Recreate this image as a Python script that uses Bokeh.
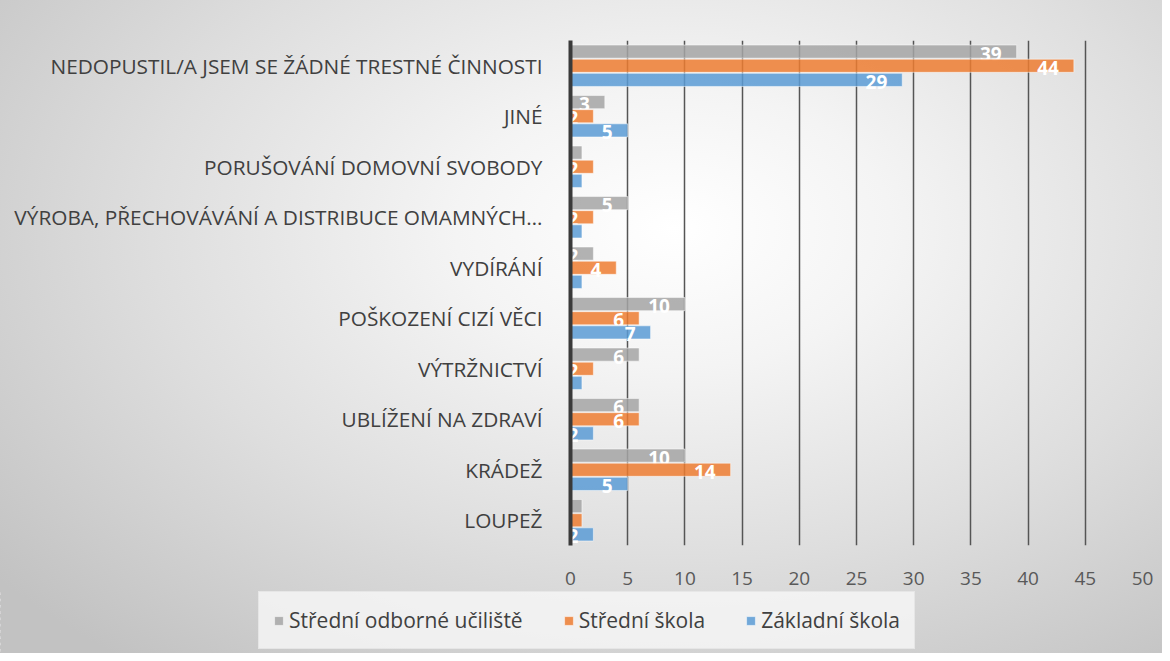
from bokeh.plotting import figure
from bokeh.layouts import column
from bokeh.models import ColumnDataSource, FactorRange, Legend, LegendItem, FixedTicker, Range1d
from bokeh.transform import dodge
from bokeh.core.properties import value
from bokeh.embed import file_html
from bokeh.resources import INLINE

categories = ["LOUPEŽ", "KRÁDEŽ", "UBLÍŽENÍ NA ZDRAVÍ", "VÝTRŽNICTVÍ", "POŠKOZENÍ CIZÍ VĚCI",
              "VYDÍRÁNÍ", "VÝROBA, PŘECHOVÁVÁNÍ A DISTRIBUCE OMAMNÝCH…",
              "PORUŠOVÁNÍ DOMOVNÍ SVOBODY", "JINÉ", "NEDOPUSTIL/A JSEM SE ŽÁDNÉ TRESTNÉ ČINNOSTI"]
sou = [1, 10, 6, 6, 10, 2, 5, 1, 3, 39]
ss = [1, 14, 6, 2, 6, 4, 2, 2, 2, 44]
zs = [2, 5, 2, 1, 7, 1, 1, 1, 5, 29]
series_names = ["Střední odborné učiliště", "Střední škola", "Základní škola"]
x_ticks = [0, 5, 10, 15, 20, 25, 30, 35, 40, 45, 50]

colors = ["#a5a5a5", "#ed7d31", "#5b9bd5"]
offsets = [0.28, 0.0, -0.28]
FONT = "Open Sans"
W = 1162

source = ColumnDataSource(data=dict(cat=categories, sou=sou, ss=ss, zs=zs,
                                    sou_t=[str(v) for v in sou],
                                    ss_t=[str(v) for v in ss],
                                    zs_t=[str(v) for v in zs]))

p = figure(width=W, height=590, y_range=FactorRange(factors=categories),
           x_range=(0, 50), output_backend="svg", toolbar_location=None,
           min_border_left=570, min_border_right=20, min_border_top=40, min_border_bottom=45)
p.background_fill_color = None
p.border_fill_color = None
p.outline_line_color = None

p.ygrid.grid_line_color = None
p.xgrid.grid_line_color = "#555555"
p.xgrid.grid_line_width = 1.5
p.xgrid.ticker = FixedTicker(ticks=x_ticks[1:])
p.xaxis.ticker = FixedTicker(ticks=x_ticks)

p.xaxis.axis_line_color = None
p.xaxis.major_tick_line_color = None
p.xaxis.minor_tick_line_color = None
p.xaxis.major_label_text_font = FONT
p.xaxis.major_label_text_font_size = "19px"
p.xaxis.major_label_text_color = "#595959"
p.xaxis.major_label_standoff = 20

p.yaxis.axis_line_color = "#3a3a3a"
p.yaxis.axis_line_width = 4
p.yaxis.major_tick_line_color = None
p.yaxis.minor_tick_line_color = None
p.yaxis.major_label_text_font = FONT
p.yaxis.major_label_text_font_size = "20.8px"
p.yaxis.major_label_text_color = "#404040"
p.yaxis.major_label_standoff = 22

for col, c, off in zip(["sou", "ss", "zs"], colors, offsets):
    p.hbar(y=dodge("cat", off, range=p.y_range), right=col, left=0, height=0.26,
           source=source, fill_color=c, fill_alpha=0.85,
           line_color="white", line_alpha=0.5, line_width=1)
    p.text(x=col, y=dodge("cat", off, range=p.y_range), text=col + "_t", source=source,
           text_align="right", text_baseline="middle", x_offset=-15, y_offset=2,
           text_color="white", text_font=value(FONT), text_font_style="bold",
           text_font_size="19px")

# legend strip below the chart
p2 = figure(width=W, height=63, y_range=FactorRange(factors=categories),
            x_range=Range1d(100, 101), output_backend="svg", toolbar_location=None,
            min_border=0)
if hasattr(p2, "frame_align"):
    p2.frame_align = False
p2.background_fill_color = None
p2.border_fill_color = None
p2.outline_line_color = None
p2.axis.visible = False
p2.grid.visible = False
renderers = []
for col, c in zip(["sou", "ss", "zs"], colors):
    renderers.append(p2.hbar(y="cat", right=col, left=0, height=0.26, source=source,
                             fill_color=c, fill_alpha=0.85, line_color="white", line_alpha=0.5))

legend = Legend(items=[LegendItem(label=n, renderers=[r]) for n, r in zip(series_names, renderers)],
                orientation="horizontal", location=(258, 4))
legend.label_text_font = FONT
legend.label_text_font_size = "21px"
legend.label_text_color = "#404040"
legend.glyph_width = 11
legend.glyph_height = 11
legend.spacing = 40
legend.padding = 14
legend.margin = 0
legend.label_standoff = 5
legend.background_fill_color = "#f7f7f7"
legend.background_fill_alpha = 0.8
legend.border_line_color = "#dcdcdc"
p2.add_layout(legend, "center")

layout = column(p, p2, spacing=0)
layout.styles = {"background": "radial-gradient(ellipse 75% 85% at 58% 35%, #ffffff 0%, #f4f4f4 25%, #dedede 60%, #c2c2c2 100%)"}

open("out.html", "w").write(file_html(layout, INLINE))
